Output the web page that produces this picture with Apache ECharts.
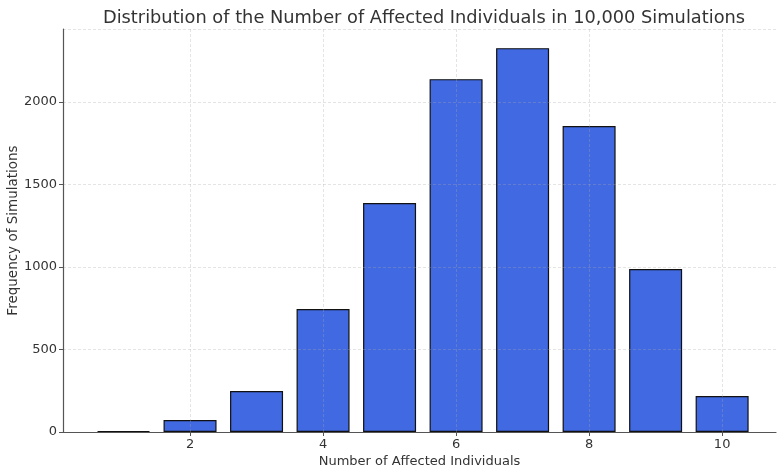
<!DOCTYPE html>
<html>
<head>
<meta charset="utf-8">
<script src="https://cdn.jsdelivr.net/npm/echarts@6/dist/echarts.min.js"></script>
<style>
  html, body { margin: 0; padding: 0; background: #fff; }
  #chart { width: 777px; height: 470px; }
</style>
</head>
<body>
<div id="chart"></div>
<script>
const affected = [1, 2, 3, 4, 5, 6, 7, 8, 9, 10]
const frequency = [6, 73, 248, 745, 1388, 2139, 2327, 1855, 988, 218]
const xTicks = [2, 4, 6, 8, 10]

const titleText = 'Distribution of the Number of Affected Individuals in 10,000 Simulations'
const xName = 'Number of Affected Individuals'
const yName = 'Frequency of Simulations'

const seriesData = affected.map((x, i) => [x, frequency[i]])

const chart = echarts.init(document.getElementById('chart'))

const gridLine = {
  show: true,
  lineStyle: { color: 'rgba(170,170,170,0.4)', type: [3, 2], width: 0.8 }
}

chart.setOption({
  animation: false,
  textStyle: { fontFamily: 'DejaVu Sans' },
  title: {
    text: titleText,
    left: 419,
    textAlign: 'center',
    top: 4,
    textStyle: { fontSize: 17.8, fontWeight: 'normal', color: '#333' }
  },
  grid: { left: 63, right: 1, top: 29, bottom: 38, outerBoundsMode: 'none', containLabel: false },
  xAxis: {
    type: 'value',
    min: 0.09,
    max: 10.81,
    z: 5,
    name: xName,
    nameLocation: 'middle',
    nameGap: 23,
    nameMoveOverlap: false,
    nameTextStyle: { fontSize: 13, color: '#333' },
    axisLine: { lineStyle: { color: '#555', width: 1.2 } },
    axisTick: { show: true, length: 4, lineStyle: { color: '#555' }, customValues: xTicks },
    axisLabel: { fontSize: 13, color: '#333', margin: 6, customValues: xTicks, formatter: v => String(v) },
    splitLine: gridLine
  },
  yAxis: {
    type: 'value',
    min: 0,
    max: 2443,
    interval: 500,
    z: 5,
    name: yName,
    nameLocation: 'middle',
    nameGap: 43,
    nameMoveOverlap: false,
    nameTextStyle: { fontSize: 13.5, color: '#333' },
    axisLine: { show: true, lineStyle: { color: '#555', width: 1.2 } },
    axisTick: { show: true, length: 4, lineStyle: { color: '#555' } },
    axisLabel: { fontSize: 13, color: '#333', margin: 6, showMaxLabel: false, formatter: v => String(v) },
    splitLine: gridLine
  },
  series: [{
    type: 'bar',
    data: seriesData,
    barWidth: 53,
    itemStyle: { color: '#4169E1', borderColor: '#111', borderWidth: 1.2 }
  }]
})
</script>
</body>
</html>
